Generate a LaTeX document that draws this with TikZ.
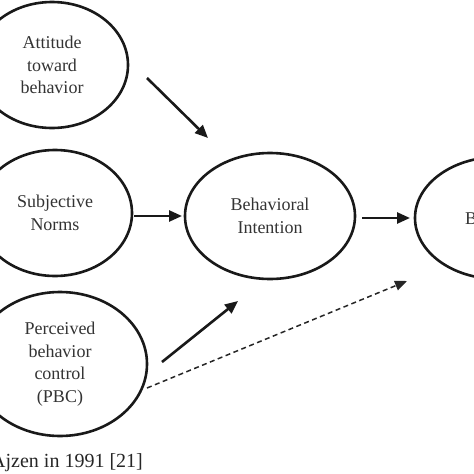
\documentclass[tikz,border=0pt]{standalone}
\usepackage{fontspec}
\setmainfont{Liberation Serif}
\usetikzlibrary{shapes.geometric,arrows.meta}
\tikzset{
  oval/.style={draw=black!90, line width=2.6pt, ellipse, inner sep=0pt, align=center,
    text=black!80, font=\fontsize{18}{22.5}\selectfont},
  solidarrow/.style={draw=black!90, line width=2.6pt, -{Triangle[length=13pt,width=11pt]}},
  dasharrow/.style={draw=black!85, line width=1.5pt, dash pattern=on 5pt off 3.5pt,
    -{Triangle[length=12pt,width=10pt]}},
  captionstyle/.style={text=black!85, font=\fontsize{20}{24}\selectfont, anchor=base west, inner sep=0pt}
}
\begin{document}
\begin{tikzpicture}[x=1pt,y=-1pt]
\useasboundingbox (0,0) rectangle (474,474);
\clip (0,0) rectangle (474,474);
\node[oval, minimum width=152pt, minimum height=126pt] (att) at (52,65) {Attitude\\toward\\behavior};
\node[oval, minimum width=154pt, minimum height=126pt] (sn) at (55,213) {Subjective\\Norms};
\node[oval, minimum width=174pt, minimum height=144pt] (pbc) at (60,364) {Perceived\\behavior\\control\\(PBC)};
\node[oval, minimum width=170pt, minimum height=126pt] (bi) at (270,216) {Behavioral\\Intention};
\node[oval, minimum width=166pt, minimum height=122pt] (beh) at (498,218) {Behavior};
\coordinate (a1s) at (147,78);  \coordinate (a1e) at (208,138);
\coordinate (a2s) at (134,216); \coordinate (a2e) at (182,216);
\coordinate (a3s) at (162,362); \coordinate (a3e) at (238,301);
\coordinate (a4s) at (362,218); \coordinate (a4e) at (410,218);
\coordinate (a5s) at (147,388); \coordinate (a5e) at (407,281);
\draw[solidarrow] (a1s) -- (a1e);
\draw[solidarrow] (a2s) -- (a2e);
\draw[solidarrow] (a3s) -- (a3e);
\draw[solidarrow] (a4s) -- (a4e);
\draw[dasharrow] (a5s) -- (a5e);
\node[captionstyle] (cap) at (-9,467) {Ajzen in 1991 [21]};
\end{tikzpicture}
\end{document}
